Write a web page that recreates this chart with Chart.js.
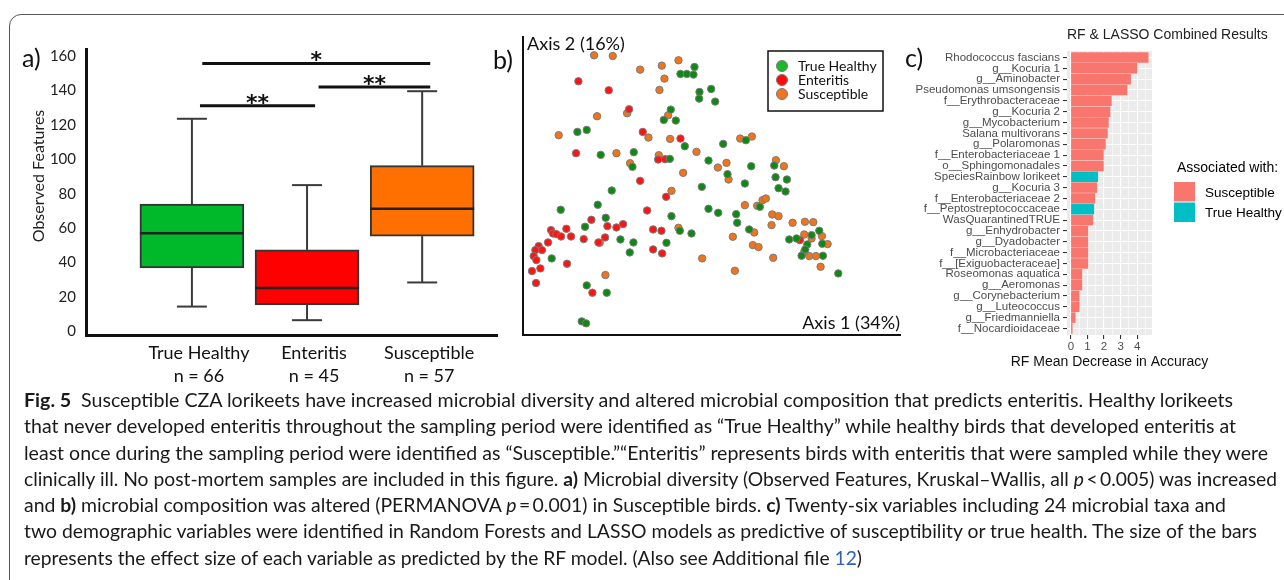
<!DOCTYPE html>
<html>
<head>
<meta charset="utf-8">
<title>Fig. 5 - lorikeet microbiome</title>
<script src="https://cdn.jsdelivr.net/npm/chart.js@4.4.1/dist/chart.umd.min.js"></script>
<style>
  body { margin: 0; width: 1284px; height: 580px; overflow: hidden; background: #fff; position: relative; font-family: Lato, "Open Sans", sans-serif; }
  .frame { position: absolute; left: 9px; top: 14px; width: 1320px; height: 580px; border: 1.5px solid #555; border-radius: 12px; box-sizing: border-box; }
  canvas { position: absolute; }
  .tag { position: absolute; font-size: 25px; line-height: 25px; color: #111; }
  .caption { position: absolute; left: 24px; top: 387px; font-size: 19.5px; line-height: 26.3px; color: #1a1a1a; }
  .caption div { white-space: nowrap; width: max-content; transform-origin: 0 0; }
  .caption .ref { color: #2d62b8; }
</style>
</head>
<body>
<div class="frame"></div>

<canvas id="diversity" width="490" height="360" style="left:20px;top:30px"></canvas>
<canvas id="pcoa" width="410" height="320" style="left:500px;top:30px"></canvas>
<canvas id="rf" width="379" height="362" style="left:905px;top:20px"></canvas>

<div class="tag" style="left:22px;top:45px">a)</div>
<div class="tag" style="left:493px;top:47px">b)</div>
<div class="tag" style="left:905px;top:45px">c)</div>

<div class="caption">
  <div data-w="1209"><b>Fig. 5</b>&ensp;Susceptible CZA lorikeets have increased microbial diversity and altered microbial composition that predicts enteritis. Healthy lorikeets</div>
  <div data-w="1212">that never developed enteritis throughout the sampling period were identified as “True Healthy” while healthy birds that developed enteritis at</div>
  <div data-w="1244">least once during the sampling period were identified as “Susceptible.”“Enteritis” represents birds with enteritis that were sampled while they were</div>
  <div data-w="1253">clinically ill. No post-mortem samples are included in this figure. <b>a)</b> Microbial diversity (Observed Features, Kruskal–Wallis, all <i>p</i>&thinsp;&lt;&thinsp;0.005) was increased</div>
  <div data-w="1202">and <b>b)</b> microbial composition was altered (PERMANOVA <i>p</i>&thinsp;=&thinsp;0.001) in Susceptible birds. <b>c)</b> Twenty-six variables including 24 microbial taxa and</div>
  <div data-w="1233">two demographic variables were identified in Random Forests and LASSO models as predictive of susceptibility or true health. The size of the bars</div>
  <div data-w="838">represents the effect size of each variable as predicted by the RF model. (Also see Additional file <span class="ref">12</span>)</div>
</div>

<script>
// a) observed features box plot
const groups = ['True Healthy', 'Enteritis', 'Susceptible'];
const groupN = [66, 45, 57];
const whiskerLow = [14.5, 6.6, 28.5];
const q1 = [37, 15.4, 55.4];
const median = [57, 25.3, 71.3];
const q3 = [74, 47.4, 96.3];
const whiskerHigh = [123.5, 85, 139.5];
const yTickValues = [0, 20, 40, 60, 80, 100, 120, 140, 160];

// significance brackets (x in group positions, y in observed features)
const sigFrom = [1.09, 1.07, 2.1];
const sigTo = [3.07, 2.07, 3.07];
const sigY = [155.6, 131, 142];
const sigLabel = ['*', '**', '**'];

// b) PCoA scores (axis 1, axis 2)
const pcoaGroups = ['True Healthy', 'Enteritis', 'Susceptible'];
const healthyPts = [
  [51.4, 80.5], [47.2, 78.4], [49.1, 78.4], [51.1, 78.2], [52.9, 73.0], [56.4, 73.9], [52.8, 71.0], [57.6, 70.1],
  [44.3, 67.7], [42.2, 64.6], [45.8, 64.4], [16.3, 61.0], [19.1, 61.6], [66.8, 58.5], [60.0, 57.4], [48.5, 56.7],
  [23.3, 54.1], [33.2, 54.9], [32.8, 50.5], [44.0, 52.9], [55.6, 52.4], [68.4, 50.7], [75.3, 50.9], [75.7, 47.4],
  [79.1, 46.7], [76.6, 44.1], [78.7, 43.1], [61.3, 48.3], [66.5, 45.5], [53.6, 44.5], [26.6, 43.4], [22.4, 39.1],
  [11.3, 37.6], [55.6, 37.9], [58.5, 36.7], [63.9, 36.3], [64.2, 33.7], [71.0, 38.5], [24.8, 35.2], [18.6, 32.5],
  [44.5, 35.7], [47.0, 31.3], [50.5, 30.5], [67.8, 31.7], [29.2, 28.7], [33.1, 27.8], [43.0, 27.7], [32.0, 24.8],
  [8.6, 23.0], [79.8, 28.7], [82.0, 29.0], [86.5, 30.0], [88.8, 31.3], [89.7, 27.4], [85.2, 27.2], [84.6, 25.7],
  [83.5, 23.8], [89.9, 23.8], [94.5, 18.5], [19.1, 14.9], [25.1, 12.7], [17.6, 4.1], [18.9, 3.5]
];
const enteritisPts = [
  [16.6, 76.2], [25.7, 73.5], [31.8, 67.8], [35.9, 61.0], [47.2, 59.0], [15.9, 54.6], [40.5, 52.7], [42.6, 52.8],
  [35.1, 46.3], [42.9, 41.5], [37.2, 37.4], [20.5, 34.6], [25.3, 32.7], [28.0, 32.3], [30.0, 33.3], [13.0, 31.9],
  [8.4, 31.5], [9.0, 30.5], [10.0, 30.3], [11.4, 29.6], [14.4, 29.6], [18.2, 28.8], [24.6, 29.3], [22.6, 27.8],
  [39.0, 31.7], [41.5, 31.3], [7.5, 27.8], [4.7, 26.7], [5.7, 25.5], [3.7, 25.5], [3.2, 23.7], [4.0, 22.5],
  [39.0, 25.7], [41.7, 24.5], [13.2, 21.4], [5.2, 20.0], [2.7, 19.2], [3.9, 15.6], [20.8, 12.7], [83.0, 28.5]
];
const susceptiblePts = [
  [21.3, 84.0], [26.9, 83.8], [46.6, 82.5], [41.6, 80.9], [35.1, 79.7], [42.4, 77.0], [40.9, 73.6], [31.2, 66.6],
  [22.2, 65.7], [43.5, 66.0], [10.7, 60.0], [37.6, 59.3], [44.1, 58.9], [28.0, 54.6], [32.1, 51.6], [40.7, 54.0],
  [52.0, 55.0], [65.1, 59.0], [68.6, 59.6], [58.4, 50.3], [61.0, 51.7], [48.0, 48.7], [61.6, 46.7], [75.8, 52.5],
  [78.2, 50.7], [44.5, 43.3], [66.5, 39.0], [70.2, 38.8], [71.8, 40.5], [72.8, 41.0], [74.7, 36.2], [76.6, 35.7],
  [74.5, 33.0], [80.8, 33.7], [84.5, 34.0], [87.0, 33.9], [46.6, 32.2], [69.3, 30.8], [62.9, 29.5], [68.9, 27.0],
  [70.6, 26.4], [53.7, 23.0], [75.0, 23.2], [84.3, 30.2], [86.5, 29.0], [89.6, 29.7], [91.3, 27.3], [85.8, 23.7],
  [87.8, 23.7], [84.3, 25.0], [89.2, 20.5], [63.5, 19.3], [24.7, 18.0], [23.0, 27.7]
];

// c) RF mean decrease in accuracy
const taxa = ['Rhodococcus fascians', 'g__Kocuria 1', 'g__Aminobacter', 'Pseudomonas umsongensis',
  'f__Erythrobacteraceae', 'g__Kocuria 2', 'g__Mycobacterium', 'Salana multivorans', 'g__Polaromonas',
  'f__Enterobacteriaceae 1', 'o__Sphingomonadales', 'SpeciesRainbow lorikeet', 'g__Kocuria 3',
  'f__Enterobacteriaceae 2', 'f__Peptostreptococcaceae', 'WasQuarantinedTRUE', 'g__Enhydrobacter',
  'g__Dyadobacter', 'f__Microbacteriaceae', 'f__[Exiguobacteraceae]', 'Roseomonas aquatica',
  'g__Aeromonas', 'g__Corynebacterium', 'g__Luteococcus', 'g__Friedmanniella', 'f__Nocardioidaceae'];
const meanDecrease = [4.66, 3.98, 3.6, 3.38, 2.44, 2.36, 2.26, 2.2, 2.08, 1.96, 1.96, 1.62, 1.56,
  1.44, 1.38, 1.32, 1.02, 1.02, 1.02, 1.02, 0.66, 0.66, 0.5, 0.5, 0.26, 0.08];
const associated = ['Susceptible', 'Susceptible', 'Susceptible', 'Susceptible', 'Susceptible', 'Susceptible',
  'Susceptible', 'Susceptible', 'Susceptible', 'Susceptible', 'Susceptible', 'True Healthy', 'Susceptible',
  'Susceptible', 'True Healthy', 'Susceptible', 'Susceptible', 'Susceptible', 'Susceptible', 'Susceptible',
  'Susceptible', 'Susceptible', 'Susceptible', 'Susceptible', 'Susceptible', 'Susceptible'];
const assocLevels = ['Susceptible', 'True Healthy'];
const rfTicks = [0, 0.5, 1, 1.5, 2, 2.5, 3, 3.5, 4, 4.5];

const boxColors = ['#00b92a', '#ff0000', '#ff7000'];
const pointColors = ['#0c8a12', '#ff1414', '#f2741a'];
const legendDotColors = ['#1db825', '#ff0a0a', '#ef761c'];
const assocColors = { 'Susceptible': '#F8766D', 'True Healthy': '#00BFC4' };

// ---------- a) ----------
const boxExtras = {
  id: 'boxExtras',
  afterDatasetsDraw(chart) {
    const { ctx, scales: { x, y } } = chart;
    const bars = chart.getDatasetMeta(0).data;
    const seg = (x1, y1, x2, y2) => { ctx.beginPath(); ctx.moveTo(x1, y1); ctx.lineTo(x2, y2); ctx.stroke(); };
    ctx.save();
    groups.forEach((g, i) => {
      const cx = x.getPixelForValue(i + 1);
      ctx.strokeStyle = '#3a3a3a';
      ctx.lineWidth = 2;
      seg(cx, y.getPixelForValue(q3[i]), cx, y.getPixelForValue(whiskerHigh[i]));
      seg(cx, y.getPixelForValue(q1[i]), cx, y.getPixelForValue(whiskerLow[i]));
      seg(cx - 15, y.getPixelForValue(whiskerHigh[i]), cx + 15, y.getPixelForValue(whiskerHigh[i]));
      seg(cx - 15, y.getPixelForValue(whiskerLow[i]), cx + 15, y.getPixelForValue(whiskerLow[i]));
      const half = bars[i].width / 2;
      ctx.lineWidth = 2.5;
      ctx.strokeStyle = '#222';
      seg(cx - half, y.getPixelForValue(median[i]), cx + half, y.getPixelForValue(median[i]));
    });
    // significance brackets
    ctx.strokeStyle = '#111';
    ctx.lineWidth = 3;
    ctx.fillStyle = '#111';
    ctx.font = 'bold 22px "DejaVu Sans"';
    ctx.textAlign = 'center';
    ctx.textBaseline = 'alphabetic';
    sigLabel.forEach((lab, i) => {
      const x1 = x.getPixelForValue(sigFrom[i]), x2 = x.getPixelForValue(sigTo[i]);
      const yy = y.getPixelForValue(sigY[i]);
      seg(x1, yy, x2, yy);
      ctx.fillText(lab, (x1 + x2) / 2, yy + 4);
    });
    // y axis title
    ctx.font = '16px Lato';
    ctx.fillStyle = '#222';
    ctx.textBaseline = 'middle';
    ctx.translate(19, 146);
    ctx.rotate(-Math.PI / 2);
    ctx.fillText('Observed Features', 0, 0);
    ctx.restore();
  }
};

new Chart(document.getElementById('diversity'), {
  type: 'bar',
  data: {
    datasets: [{
      data: groups.map((g, i) => ({ x: i + 1, y: [q1[i], q3[i]] })),
      backgroundColor: boxColors,
      borderColor: '#333',
      borderWidth: 2,
      borderSkipped: false,
      barThickness: 104
    }]
  },
  options: {
    responsive: false,
    animation: false,
    layout: { padding: { top: 10, right: 13, left: 0, bottom: 0 } },
    plugins: { legend: { display: false }, tooltip: { enabled: false } },
    scales: {
      x: {
        type: 'linear', min: 0.08, max: 3.65, offset: false,
        afterBuildTicks: s => { s.ticks = groups.map((g, i) => ({ value: i + 1 })); },
        ticks: {
          callback: (v, i) => [groups[i], 'n = ' + groupN[i]],
          font: { family: 'Lato', size: 18, lineHeight: 1.3 }, color: '#111',
          padding: 6, labelOffset: 7, maxRotation: 0, autoSkip: false
        },
        grid: { display: false, drawTicks: false, offset: false },
        border: { display: true, width: 3, color: '#111' },
        afterFit: s => { s.height = 55; }
      },
      y: {
        min: -2, max: 164,
        afterBuildTicks: s => { s.ticks = yTickValues.map(v => ({ value: v })); },
        ticks: { font: { family: 'Lato', size: 15 }, color: '#222', padding: 10 },
        grid: { display: false, drawTicks: false },
        border: { display: true, width: 3, color: '#111' },
        afterFit: s => { s.width = 66; }
      }
    }
  },
  plugins: [boxExtras]
});

// ---------- b) ----------
const pcoaExtras = {
  id: 'pcoaExtras',
  afterDraw(chart) {
    const { ctx, chartArea: a } = chart;
    ctx.save();
    ctx.fillStyle = '#111';
    ctx.font = '18px Lato';
    ctx.textBaseline = 'middle';
    ctx.textAlign = 'left';
    ctx.fillText('Axis 2 (16%)', a.left + 4, a.top + 7);
    ctx.textAlign = 'right';
    ctx.fillText('Axis 1 (34%)', a.right, a.bottom - 12);
    // legend box
    const bx = a.right - 132, by = a.top + 14;
    ctx.strokeStyle = '#111';
    ctx.lineWidth = 1.5;
    ctx.strokeRect(bx, by, 115, 60);
    ctx.font = '14px Lato';
    ctx.textAlign = 'left';
    pcoaGroups.forEach((g, i) => {
      const cy = by + 15 + i * 14;
      ctx.beginPath();
      ctx.arc(bx + 14, cy, 5.5, 0, Math.PI * 2);
      ctx.fillStyle = legendDotColors[i];
      ctx.fill();
      ctx.strokeStyle = '#777';
      ctx.lineWidth = 1;
      ctx.stroke();
      ctx.fillStyle = '#111';
      ctx.fillText(g, bx + 30, cy);
    });
    ctx.restore();
  }
};

new Chart(document.getElementById('pcoa'), {
  type: 'scatter',
  data: {
    datasets: [healthyPts, enteritisPts, susceptiblePts].map((pts, i) => ({
      label: pcoaGroups[i],
      data: pts.map(p => ({ x: p[0], y: p[1] })),
      backgroundColor: pointColors[i],
      borderColor: '#7a7a7a',
      borderWidth: 1,
      pointRadius: 3.7
    }))
  },
  options: {
    responsive: false,
    animation: false,
    layout: { padding: { top: 7, right: 10, left: 0, bottom: 0 } },
    plugins: { legend: { display: false }, tooltip: { enabled: false } },
    scales: {
      x: {
        type: 'linear', min: 0, max: 113,
        ticks: { display: false }, grid: { display: false, drawTicks: false },
        border: { display: true, width: 2, color: '#111' },
        afterFit: s => { s.height = 15; }
      },
      y: {
        type: 'linear', min: 0, max: 89.5,
        ticks: { display: false }, grid: { display: false, drawTicks: false },
        border: { display: true, width: 2, color: '#111' },
        afterFit: s => { s.width = 23; }
      }
    }
  },
  plugins: [pcoaExtras]
});

// ---------- c) ----------
const rfExtras = {
  id: 'rfExtras',
  beforeDraw(chart) {
    const { ctx, chartArea: a } = chart;
    ctx.save();
    ctx.fillStyle = '#ebebeb';
    ctx.fillRect(a.left, a.top, a.width, a.height);
    ctx.restore();
  },
  afterDraw(chart) {
    const { ctx, chartArea: a } = chart;
    ctx.save();
    ctx.fillStyle = '#222';
    ctx.font = '14px "Liberation Sans"';
    ctx.textBaseline = 'middle';
    ctx.textAlign = 'left';
    ctx.fillText('RF & LASSO Combined Results', a.left, 15);
    ctx.fillStyle = '#000';
    ctx.fillText('Associated with:', a.right + 25, 148);
    ctx.font = '13.5px "Liberation Sans"';
    assocLevels.forEach((lev, i) => {
      ctx.fillStyle = assocColors[lev];
      ctx.fillRect(a.right + 22, 162 + i * 20.5, 21, 19.5);
      ctx.fillStyle = '#000';
      ctx.fillText(lev, a.right + 53, 173 + i * 20.5);
    });
    // x axis title, centred under the panel
    ctx.fillStyle = '#111';
    ctx.font = '14px "Liberation Sans"';
    ctx.textAlign = 'center';
    ctx.fillText('RF Mean Decrease in Accuracy', (a.left + a.right) / 2, 342);
    ctx.restore();
  }
};

new Chart(document.getElementById('rf'), {
  type: 'bar',
  data: {
    datasets: [{
      data: taxa.map((t, i) => ({ x: meanDecrease[i], y: i + 1 })),
      backgroundColor: associated.map(a => assocColors[a]),
      borderWidth: 0,
      barThickness: 9.8
    }]
  },
  options: {
    indexAxis: 'y',
    responsive: false,
    animation: false,
    layout: { padding: { top: 31, right: 132, left: 0, bottom: 0 } },
    plugins: { legend: { display: false }, tooltip: { enabled: false } },
    scales: {
      x: {
        type: 'linear', min: -0.233, max: 4.89,
        afterBuildTicks: s => { s.ticks = rfTicks.map(v => ({ value: v })); },
        ticks: {
          callback: v => (Number.isInteger(v) ? String(v) : ''),
          font: { family: 'Liberation Sans', size: 11.5 }, color: '#4d4d4d', padding: 1, autoSkip: false, maxRotation: 0
        },
        grid: {
          color: '#ffffff',
          lineWidth: c => (Number.isInteger(c.tick.value) ? 1.1 : 0.55),
          tickColor: c => (Number.isInteger(c.tick.value) ? '#333' : 'rgba(0,0,0,0)'),
          tickLength: 4, drawTicks: true
        },
        border: { display: false },
        afterFit: s => { s.height = 47; }
      },
      y: {
        type: 'linear', reverse: true, min: 0.4, max: 26.6, offset: false,
        afterBuildTicks: s => { s.ticks = taxa.map((t, i) => ({ value: i + 1 })); },
        ticks: {
          callback: (v, i) => taxa[i],
          font: { family: 'Liberation Sans', size: 11.5 }, color: '#4d4d4d', padding: 3, autoSkip: false
        },
        grid: { color: '#ffffff', lineWidth: 1.1, tickColor: '#333', tickLength: 4, offset: false },
        border: { display: false },
        afterFit: s => { s.width = 162; }
      }
    }
  },
  plugins: [rfExtras]
});

// caption lines are condensed to the widths they take in the figure
document.querySelectorAll('.caption div').forEach(el => {
  const natural = el.getBoundingClientRect().width;
  el.style.transform = 'scaleX(' + (Number(el.dataset.w) / natural) + ')';
});
</script>
</body>
</html>
